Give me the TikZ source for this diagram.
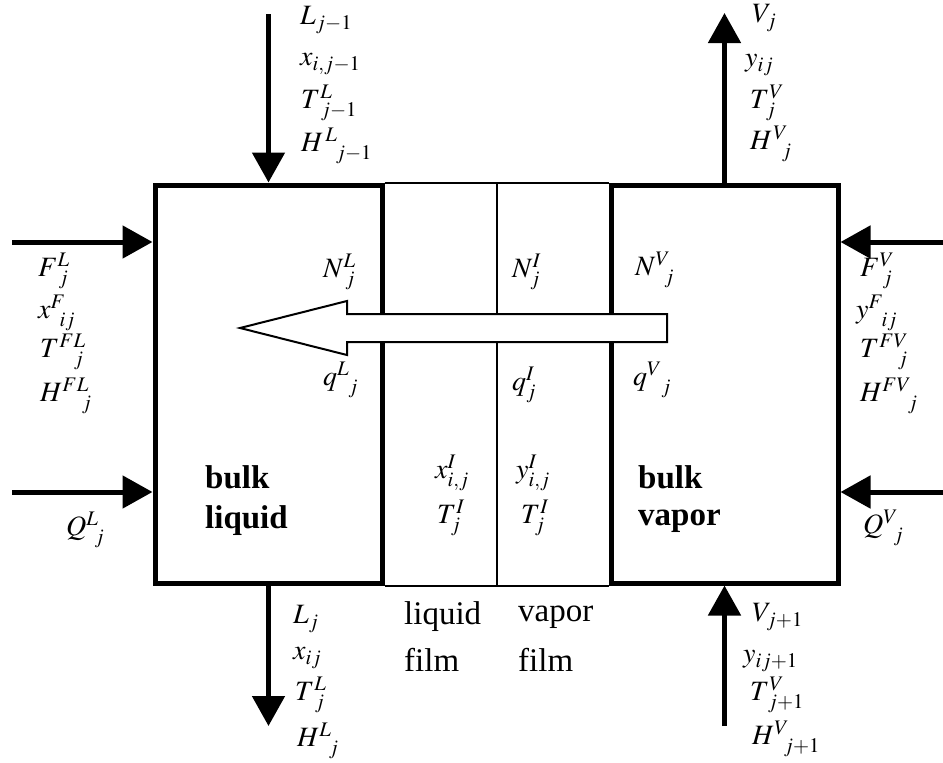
\documentclass[tikz,border=0pt]{standalone}
\usepackage{mathptmx}
\usepackage{fontspec}
\setmainfont{Liberation Serif}
\usetikzlibrary{arrows.meta,calc}

\tikzset{
  bulkbox/.style={draw,line width=5pt,minimum width=227pt,minimum height=398pt,inner sep=0pt},
  flow/.style={line width=5pt,-{Triangle[length=30pt,width=32pt]}},
  film/.style={line width=2pt},
  lbl/.style={anchor=west,inner sep=0pt,font=\fontsize{28}{32}\selectfont},
  word/.style={anchor=west,inner sep=0pt,font=\fontsize{33}{38}\selectfont},
  bword/.style={word,font=\fontsize{33}{38}\selectfont\bfseries}
}

\begin{document}
\begin{tikzpicture}[x=1pt,y=-1pt]
\useasboundingbox (0,0) rectangle (943,763);
\node[bulkbox] (liq) at (268.5,384) {};
\node[bulkbox] (vap) at (724.5,384) {};
\draw[film] (liq.north east) -- (vap.north west);
\draw[film] (liq.south east) -- (vap.south west);
\coordinate (ftop) at ($(liq.north east)!0.5!(vap.north west)$);
\coordinate (fbot) at ($(liq.south east)!0.5!(vap.south west)$);
\draw[film] (ftop) -- (fbot);
\draw[film,fill=white] (667,314) -- (347,314) -- (347,301) -- (240,328)
  -- (347,355) -- (347,342) -- (667,342) -- cycle;
\coordinate (inL) at (268.5,14);
\coordinate (outV) at (724.5,13);
\coordinate (outL) at (268.5,726);
\coordinate (inV) at (724.5,726);
\coordinate (feedL) at (12,242);
\coordinate (heatL) at (12,492);
\coordinate (feedV) at (943,242);
\coordinate (heatV) at (943,492);
\draw[flow] (inL) -- (liq.north);
\draw[flow] (vap.north) -- (outV);
\draw[flow] (liq.south) -- (outL);
\draw[flow] (inV) -- (vap.south);
\draw[flow] (feedL) -- (feedL -| liq.west);
\draw[flow] (heatL) -- (heatL -| liq.west);
\draw[flow] (feedV) -- (feedV -| vap.east);
\draw[flow] (heatV) -- (heatV -| vap.east);
\node[lbl] (lin1) at (300,20) {$L_{j-1}$};
\node[lbl] (lin2) at (300,64) {$x_{i,j-1}$};
\node[lbl] (lin3) at (301,103) {$T^{L}_{\kern6pt j-1}$};
\node[lbl] (lin4) at (301,146) {$H^{\kern2pt L}_{\kern15pt j-1}$};
\node[lbl] (vout1) at (752,18) {$V_{j}$};
\node[lbl] (vout2) at (745,65) {$y_{ij}$};
\node[lbl] (vout3) at (750,103) {$T^{V}_{\kern2pt j}$};
\node[lbl] (vout4) at (750,144) {$H^{\kern1pt V}_{\kern12pt j}$};
\node[lbl] (fl1) at (38,271) {$F^{L}_{\kern6pt j}$};
\node[lbl] (fl2) at (38,313) {$x^{F}_{\kern9pt ij}$};
\node[lbl] (fl3) at (40,352) {$T^{FL}_{\kern20pt j}$};
\node[lbl] (fl4) at (40,396) {$H^{FL}_{\kern22pt j}$};
\node[lbl] (fv1) at (860,271) {$F^{V}_{\kern8pt j}$};
\node[lbl] (fv2) at (856,313) {$y^{F}_{\kern13pt ij}$};
\node[lbl] (fv3) at (860,352) {$T^{FV}_{\kern24pt j}$};
\node[lbl] (fv4) at (860,396) {$H^{FV}_{\kern28pt j}$};
\node[lbl] (ql) at (66,530) {$Q^{L}_{\kern8pt j}$};
\node[lbl] (qv) at (863,528) {$Q^{V}_{\kern10pt j}$};
\node[lbl] (nl) at (323,272) {$N^{L}_{\kern4pt j}$};
\node[lbl] (hl) at (323,380) {$q^{L}_{\kern11pt j}$};
\node[lbl] (ni) at (512,272) {$N^{I}_{j}$};
\node[lbl] (hi) at (512,385) {$q^{I}_{j}$};
\node[lbl] (nv) at (635,270) {$N^{V}_{\kern11pt j}$};
\node[lbl] (hv) at (633,380) {$q^{V}_{\kern14pt j}$};
\node[lbl] (xi) at (435,473) {$x^{I}_{i,j}$};
\node[lbl] (til) at (437,518) {$T^{I}_{j}$};
\node[lbl] (yi) at (516,473) {$y^{I}_{i,j}$};
\node[lbl] (tiv) at (521,518) {$T^{I}_{j}$};
\node[bword] (bl1) at (205,477) {bulk};
\node[bword] (bl2) at (205,521) {liquid};
\node[bword] (bv1) at (638,477) {bulk};
\node[bword] (bv2) at (638,521) {vapor};
\node[word] (lf1) at (404,617) {liquid};
\node[word] (lf2) at (404,660) {film};
\node[word] (vf1) at (518,617) {vapor};
\node[word] (vf2) at (518,660) {film};
\node[lbl] (lout1) at (293,619) {$L_{j}$};
\node[lbl] (lout2) at (293,658) {$x_{ij}$};
\node[lbl] (lout3) at (295,695) {$T^{L}_{\kern6pt j}$};
\node[lbl] (lout4) at (297,741) {$H^{L}_{\kern12pt j}$};
\node[lbl] (vin1) at (752,617) {$V_{j+1}$};
\node[lbl] (vin2) at (743,661) {$y_{ij+1}$};
\node[lbl] (vin3) at (750,695) {$T^{V}_{\kern4pt j+1}$};
\node[lbl] (vin4) at (752,739) {$H^{V}_{\kern12pt j+1}$};
\end{tikzpicture}
\end{document}
